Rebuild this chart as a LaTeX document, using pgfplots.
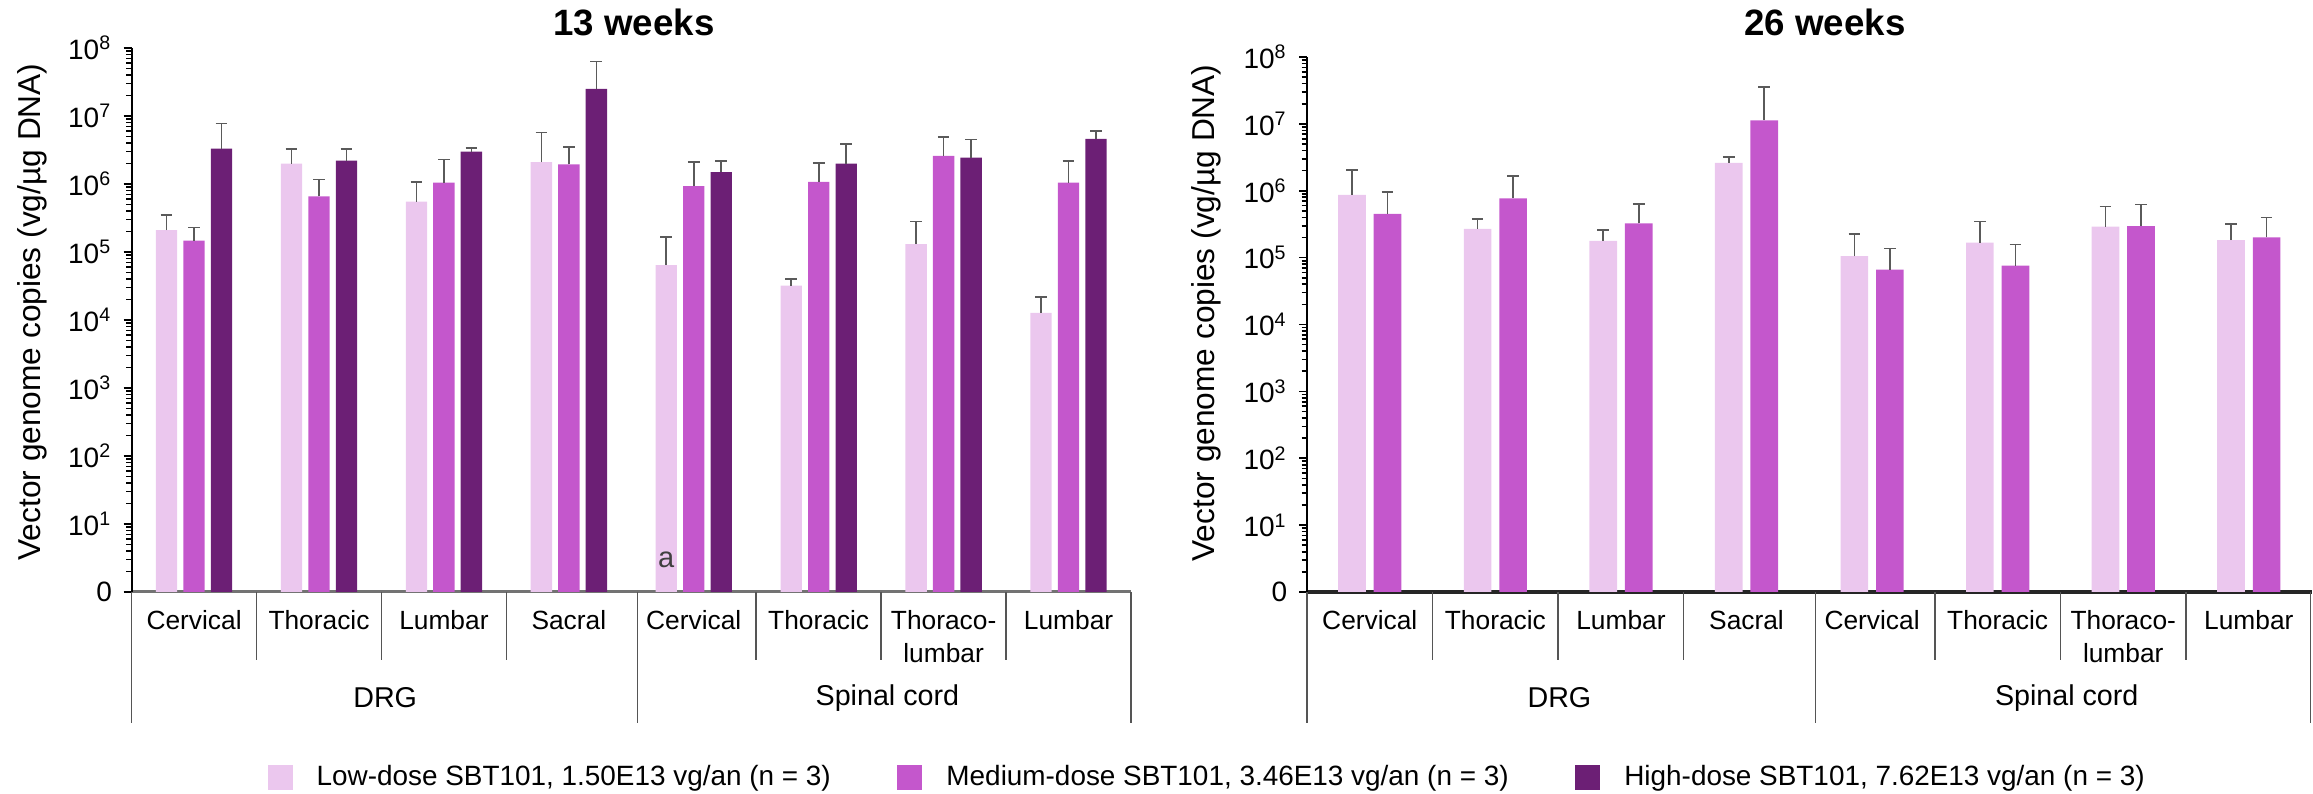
\documentclass[border=0pt]{standalone}
\usepackage{fontspec}
\setmainfont{Liberation Sans}
\usepackage{pgfplots}
\pgfplotsset{compat=1.18}
\usepackage{pgfplotstable}
\definecolor{lowc}{HTML}{EBC7EE}
\definecolor{medc}{HTML}{C457CC}
\definecolor{highc}{HTML}{6C1F75}
\definecolor{errc}{HTML}{5A5A5A}
\definecolor{sepc}{HTML}{555555}

% 13 weeks: value and top of error bar
\pgfplotstableread{
x low lowtop med medtop high hightop
0 2.1e5 3.5e5 1.47e5 2.3e5 3.3e6 7.8e6
1 2.0e6 3.3e6 6.6e5 1.17e6 2.2e6 3.3e6
2 5.5e5 1.07e6 1.05e6 2.3e6 3.0e6 3.4e6
3 2.1e6 5.7e6 1.95e6 3.5e6 2.5e7 6.3e7
4 6.4e4 1.66e5 9.3e5 2.1e6 1.49e6 2.2e6
5 3.2e4 4.0e4 1.07e6 2.05e6 2.0e6 3.9e6
6 1.31e5 2.8e5 2.6e6 4.9e6 2.45e6 4.5e6
7 1.27e4 2.2e4 1.05e6 2.2e6 4.6e6 6.0e6
}\tthirteen

% 26 weeks
\pgfplotstableread{
x low lowtop med medtop
0 8.7e5 2.05e6 4.5e5 9.5e5
1 2.7e5 3.8e5 7.7e5 1.66e6
2 1.78e5 2.56e5 3.25e5 6.3e5
3 2.6e6 3.2e6 1.13e7 3.6e7
4 1.05e5 2.28e5 6.6e4 1.37e5
5 1.67e5 3.45e5 7.6e4 1.58e5
6 2.9e5 5.8e5 2.95e5 6.2e5
7 1.82e5 3.2e5 2.0e5 4.0e5
}\ttwentysix

\pgfplotsset{
  every axis/.append style={
    scale only axis, ymode=log, ymin=1, ymax=1e8, xmin=-0.5, xmax=7.5,
    axis lines=left, axis line style={-},
    y axis line style={line width=0.6pt, black},
    ytick={1,10,100,1000,10000,100000,1000000,10000000,100000000},
    yticklabels={0,10\textsuperscript{1},10\textsuperscript{2},10\textsuperscript{3},10\textsuperscript{4},10\textsuperscript{5},10\textsuperscript{6},10\textsuperscript{7},10\textsuperscript{8}},
    minor ytick={2,3,4,5,6,7,8,9,20,30,40,50,60,70,80,90,200,300,400,500,600,700,800,900,2000,3000,4000,5000,6000,7000,8000,9000,2e4,3e4,4e4,5e4,6e4,7e4,8e4,9e4,2e5,3e5,4e5,5e5,6e5,7e5,8e5,9e5,2e6,3e6,4e6,5e6,6e6,7e6,8e6,9e6,2e7,3e7,4e7,5e7,6e7,7e7,8e7,9e7},
    tick align=outside, major tick length=2.4pt, minor tick length=1.6pt,
    ytick style={black, line width=0.5pt},
    minor tick style={black, line width=0.4pt},
    xtick={0,...,7},
    xticklabels={Cervical,Thoracic,Lumbar,Sacral,Cervical,Thoracic,Thoraco-\\lumbar,Lumbar},
    xtick style={draw=none},
    xticklabel style={anchor=north, inner sep=0pt, align=center, font=\fontsize{7.9}{9.9}\selectfont, yshift=-3pt},
    yticklabel style={font=\fontsize{8.4}{10}\selectfont},
    clip=false,
    error bars/y dir=plus, error bars/y explicit,
    error bars/error bar style={errc, line width=0.5pt},
    error bars/error mark=-,
    error bars/error mark options={errc, line width=0.5pt, mark size=1.75pt, rotate=90},
  },
}

\begin{document}
\begin{tikzpicture}
\useasboundingbox (0,0) rectangle (693.9pt,238.2pt);

\begin{axis}[
  at={(39.48pt,60.6pt)}, anchor=south west,
  width=299.82pt, height=163.2pt,
  x axis line style={draw=black!55, line width=0.9pt},
  legend style={draw=none, fill=none, at={(0.1355,-0.3419)}, anchor=west,
    inner sep=0pt, nodes={inner sep=0pt, anchor=west},
    font=\fontsize{8.37}{10}\selectfont,
    /tikz/every odd column/.append style={column sep=7.2pt},
    /tikz/every even column/.append style={column sep=20pt}},
  legend columns=3,
]
\addplot[ybar, draw=none, fill=lowc, bar width=6.4pt, bar shift=0pt,
  legend image code/.code={\fill[draw=none] (0pt,-3.75pt) rectangle (7.5pt,3.75pt);}]
  table[x expr=\thisrow{x}-0.2201, y=low, y error expr=\thisrow{lowtop}-\thisrow{low}] {\tthirteen};
\addlegendentry{Low-dose SBT101, 1.50E13 vg/an (n = 3)}
\addplot[ybar, draw=none, fill=medc, bar width=6.4pt, bar shift=0pt,
  legend image code/.code={\fill[draw=none] (0pt,-3.75pt) rectangle (7.5pt,3.75pt);}]
  table[x=x, y=med, y error expr=\thisrow{medtop}-\thisrow{med}] {\tthirteen};
\addlegendentry{Medium-dose SBT101, 3.46E13 vg/an (n = 3)}
\addplot[ybar, draw=none, fill=highc, bar width=6.4pt, bar shift=0pt,
  legend image code/.code={\fill[draw=none] (0pt,-3.75pt) rectangle (7.5pt,3.75pt);}]
  table[x expr=\thisrow{x}+0.2201, y=high, y error expr=\thisrow{hightop}-\thisrow{high}] {\tthirteen};
\addlegendentry{High-dose SBT101, 7.62E13 vg/an (n = 3)}

\node[font=\fontsize{8.7}{10}\selectfont, text=black!75] at (axis cs:3.78,3) {a};

\draw[sepc, line width=0.45pt] (axis cs:0.5,1) -- ++(0pt,-20.4pt);
\draw[sepc, line width=0.45pt] (axis cs:1.5,1) -- ++(0pt,-20.4pt);
\draw[sepc, line width=0.45pt] (axis cs:2.5,1) -- ++(0pt,-20.4pt);
\draw[sepc, line width=0.45pt] (axis cs:4.5,1) -- ++(0pt,-20.4pt);
\draw[sepc, line width=0.45pt] (axis cs:5.5,1) -- ++(0pt,-20.4pt);
\draw[sepc, line width=0.45pt] (axis cs:6.5,1) -- ++(0pt,-20.4pt);
\draw[sepc, line width=0.45pt] (axis cs:-0.5,1) -- ++(0pt,-39.3pt);
\draw[sepc, line width=0.45pt] (axis cs:3.55,1) -- ++(0pt,-39.3pt);
\draw[sepc, line width=0.45pt] (axis cs:7.5,1) -- ++(0pt,-39.3pt);
\node[font=\fontsize{8.6}{10}\selectfont, yshift=-31.8pt] at (axis cs:1.53,1) {DRG};
\node[font=\fontsize{8.6}{10}\selectfont, yshift=-31.8pt] at (axis cs:5.55,1) {Spinal cord};
\end{axis}

\begin{axis}[
  at={(392.1pt,60.6pt)}, anchor=south west,
  width=301.38pt, height=160.5pt,
  x axis line style={draw=black!85, line width=1pt},
]
\addplot[ybar, draw=none, fill=lowc, bar width=8.3pt, bar shift=0pt]
  table[x expr=\thisrow{x}-0.1415, y=low, y error expr=\thisrow{lowtop}-\thisrow{low}] {\ttwentysix};
\addplot[ybar, draw=none, fill=medc, bar width=8.3pt, bar shift=0pt]
  table[x expr=\thisrow{x}+0.1415, y=med, y error expr=\thisrow{medtop}-\thisrow{med}] {\ttwentysix};

\draw[sepc, line width=0.45pt] (axis cs:0.5,1) -- ++(0pt,-20.4pt);
\draw[sepc, line width=0.45pt] (axis cs:1.5,1) -- ++(0pt,-20.4pt);
\draw[sepc, line width=0.45pt] (axis cs:2.5,1) -- ++(0pt,-20.4pt);
\draw[sepc, line width=0.45pt] (axis cs:4.5,1) -- ++(0pt,-20.4pt);
\draw[sepc, line width=0.45pt] (axis cs:5.5,1) -- ++(0pt,-20.4pt);
\draw[sepc, line width=0.45pt] (axis cs:6.5,1) -- ++(0pt,-20.4pt);
\draw[sepc, line width=0.45pt] (axis cs:-0.5,1) -- ++(0pt,-39.3pt);
\draw[sepc, line width=0.45pt] (axis cs:3.55,1) -- ++(0pt,-39.3pt);
\draw[sepc, line width=0.45pt] (axis cs:7.49,1) -- ++(0pt,-39.3pt);
\node[font=\fontsize{8.6}{10}\selectfont, yshift=-31.8pt] at (axis cs:1.51,1) {DRG};
\node[font=\fontsize{8.6}{10}\selectfont, yshift=-31.8pt] at (axis cs:5.55,1) {Spinal cord};
\end{axis}

\node[anchor=base, font=\bfseries\fontsize{11}{13}\selectfont] at (190.2pt,227.5pt) {13 weeks};
\node[anchor=base, font=\bfseries\fontsize{11}{13}\selectfont] at (547.5pt,227.5pt) {26 weeks};
\node[rotate=90, font=\fontsize{9.5}{11}\selectfont] at (9.6pt,144.6pt) {Vector genome copies (vg/µg DNA)};
\node[rotate=90, font=\fontsize{9.5}{11}\selectfont] at (361.8pt,144.3pt) {Vector genome copies (vg/µg DNA)};
\end{tikzpicture}
\end{document}
